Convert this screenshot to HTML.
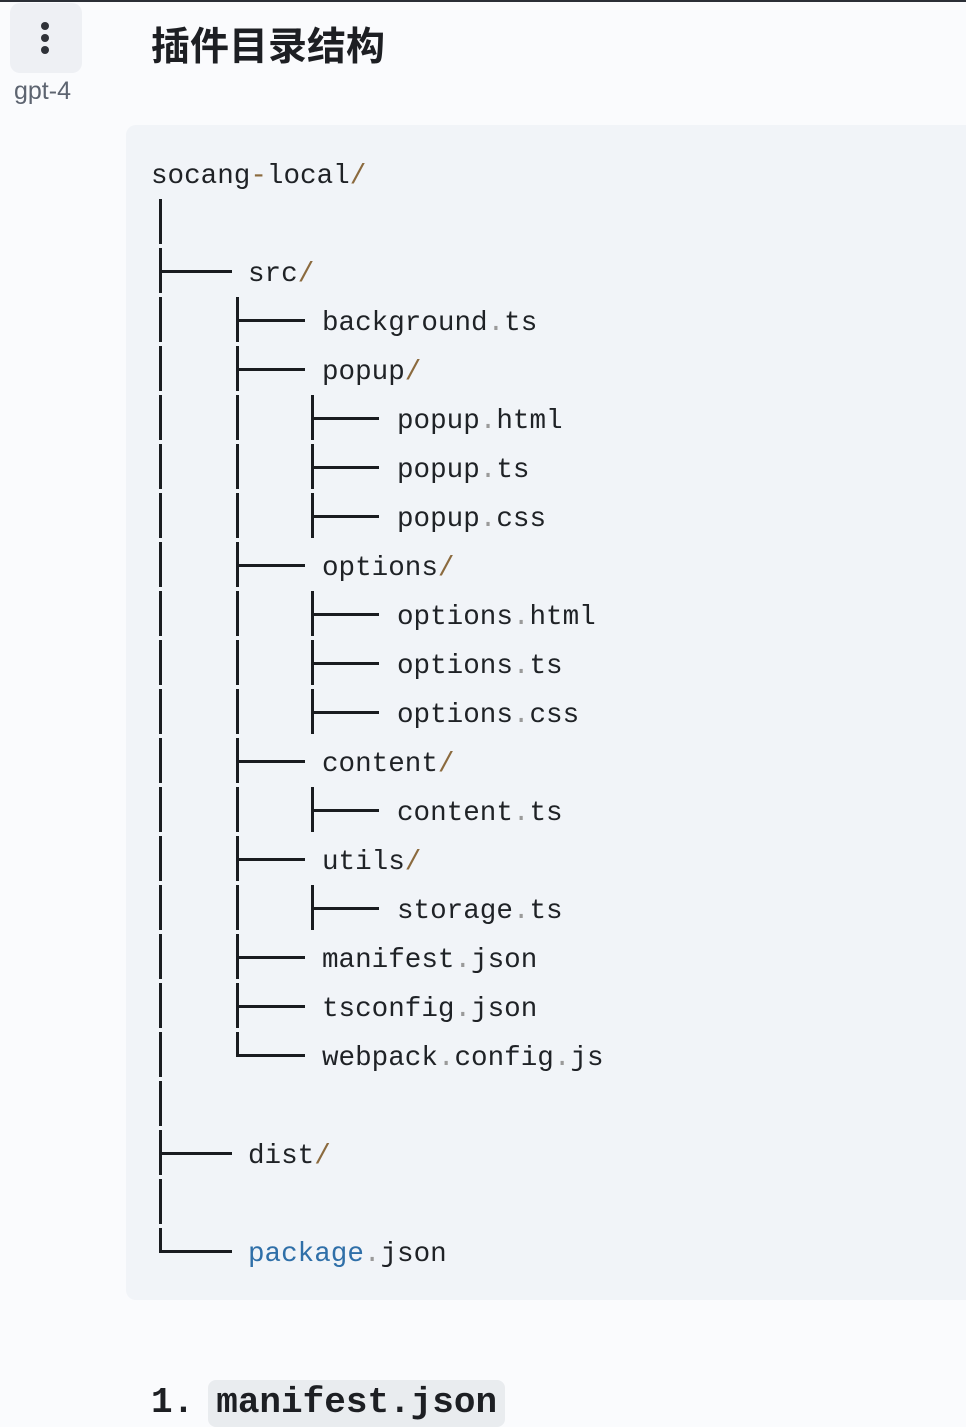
<!DOCTYPE html>
<html><head><meta charset="utf-8"><style>
html,body{margin:0;padding:0}
body{width:966px;height:1394px;overflow:hidden;background:#fafbfd;position:relative;font-family:"Liberation Sans","Noto Sans CJK SC",sans-serif}
.top{position:absolute;left:0;top:0;width:966px;height:2px;background:#2b2f36}
.ic{position:absolute;left:10px;top:3px;width:72px;height:70px;background:#eef0f4;border-radius:10px}
.dot{position:absolute;width:8px;height:8px;border-radius:50%;background:#2f3238}
.lbl{position:absolute;left:14px;top:77px;font-size:25px;color:#5d6470}
h1{position:absolute;left:151px;top:17px;margin:0;font-size:39px;font-weight:bold;color:#1d1f23;font-family:"Noto Sans CJK SC",sans-serif;line-height:54px}
.code{position:absolute;left:126px;top:125px;width:900px;height:1175px;background:#f1f4f8;border-radius:10px}
.t{position:absolute;font-family:"Liberation Mono",monospace;font-size:27.6px;line-height:49px;color:#1f2226;white-space:pre}
.s{color:#8b6a3e}.d{color:#9a9a9a}.b{color:#2f6fa8}
.v{position:absolute;width:3px;height:45px;background:#1a1c20}
.h{position:absolute;height:3px;background:#1a1c20}
.L0{left:159px}.L1{left:236px}.L2{left:311px}
.H0{left:159px;width:73px}.H1{left:236px;width:69px}.H2{left:311px;width:68px}
.bot{position:absolute;left:151px;top:1372px;font-family:"Liberation Mono",monospace;font-weight:bold;font-size:36px;line-height:42px;color:#1d1f23;white-space:pre}
.bot span{background:#e9ecef;border-radius:8px;padding:2px 8px 4px}
</style></head><body>
<div class="top"></div>
<div class="ic"><div class="dot" style="top:19px;left:31px"></div><div class="dot" style="top:31px;left:31px"></div><div class="dot" style="top:43px;left:31px"></div></div>
<div class="lbl">gpt-4</div>
<h1>插件目录结构</h1>
<div class="code"></div>

<div class="t" style="left:151px;top:152px">socang<span class="s">-</span>local<span class="s">/</span></div>
<div class="t" style="left:248px;top:250px">src<span class="s">/</span></div>
<div class="t" style="left:322px;top:299px">background<span class="d">.</span>ts</div>
<div class="t" style="left:322px;top:348px">popup<span class="s">/</span></div>
<div class="t" style="left:397px;top:397px">popup<span class="d">.</span>html</div>
<div class="t" style="left:397px;top:446px">popup<span class="d">.</span>ts</div>
<div class="t" style="left:397px;top:495px">popup<span class="d">.</span>css</div>
<div class="t" style="left:322px;top:544px">options<span class="s">/</span></div>
<div class="t" style="left:397px;top:593px">options<span class="d">.</span>html</div>
<div class="t" style="left:397px;top:642px">options<span class="d">.</span>ts</div>
<div class="t" style="left:397px;top:691px">options<span class="d">.</span>css</div>
<div class="t" style="left:322px;top:740px">content<span class="s">/</span></div>
<div class="t" style="left:397px;top:789px">content<span class="d">.</span>ts</div>
<div class="t" style="left:322px;top:838px">utils<span class="s">/</span></div>
<div class="t" style="left:397px;top:887px">storage<span class="d">.</span>ts</div>
<div class="t" style="left:322px;top:936px">manifest<span class="d">.</span>json</div>
<div class="t" style="left:322px;top:985px">tsconfig<span class="d">.</span>json</div>
<div class="t" style="left:322px;top:1034px">webpack<span class="d">.</span>config<span class="d">.</span>js</div>
<div class="t" style="left:248px;top:1132px">dist<span class="s">/</span></div>
<div class="t" style="left:248px;top:1230px"><span class="b">package</span><span class="d">.</span>json</div>

<div class="v L0" style="top:199px"></div>
<div class="v L0" style="top:248px"></div>
<div class="v L0" style="top:297px"></div>
<div class="v L0" style="top:346px"></div>
<div class="v L0" style="top:395px"></div>
<div class="v L0" style="top:444px"></div>
<div class="v L0" style="top:493px"></div>
<div class="v L0" style="top:542px"></div>
<div class="v L0" style="top:591px"></div>
<div class="v L0" style="top:640px"></div>
<div class="v L0" style="top:689px"></div>
<div class="v L0" style="top:738px"></div>
<div class="v L0" style="top:787px"></div>
<div class="v L0" style="top:836px"></div>
<div class="v L0" style="top:885px"></div>
<div class="v L0" style="top:934px"></div>
<div class="v L0" style="top:983px"></div>
<div class="v L0" style="top:1032px"></div>
<div class="v L0" style="top:1081px"></div>
<div class="v L0" style="top:1130px"></div>
<div class="v L0" style="top:1179px"></div>
<div class="v L0" style="top:1228px;height:25px"></div>
<div class="h H0" style="top:270px"></div>
<div class="h H0" style="top:1152px"></div>
<div class="h H0" style="top:1250px"></div>

<div class="v L1" style="top:297px"></div>
<div class="v L1" style="top:346px"></div>
<div class="v L1" style="top:395px"></div>
<div class="v L1" style="top:444px"></div>
<div class="v L1" style="top:493px"></div>
<div class="v L1" style="top:542px"></div>
<div class="v L1" style="top:591px"></div>
<div class="v L1" style="top:640px"></div>
<div class="v L1" style="top:689px"></div>
<div class="v L1" style="top:738px"></div>
<div class="v L1" style="top:787px"></div>
<div class="v L1" style="top:836px"></div>
<div class="v L1" style="top:885px"></div>
<div class="v L1" style="top:934px"></div>
<div class="v L1" style="top:983px"></div>
<div class="v L1" style="top:1032px;height:25px"></div>
<div class="h H1" style="top:319px"></div>
<div class="h H1" style="top:368px"></div>
<div class="h H1" style="top:564px"></div>
<div class="h H1" style="top:760px"></div>
<div class="h H1" style="top:858px"></div>
<div class="h H1" style="top:956px"></div>
<div class="h H1" style="top:1005px"></div>
<div class="h H1" style="top:1054px"></div>

<div class="v L2" style="top:395px"></div>
<div class="v L2" style="top:444px"></div>
<div class="v L2" style="top:493px"></div>
<div class="v L2" style="top:591px"></div>
<div class="v L2" style="top:640px"></div>
<div class="v L2" style="top:689px"></div>
<div class="v L2" style="top:787px"></div>
<div class="v L2" style="top:885px"></div>
<div class="h H2" style="top:417px"></div>
<div class="h H2" style="top:466px"></div>
<div class="h H2" style="top:515px"></div>
<div class="h H2" style="top:613px"></div>
<div class="h H2" style="top:662px"></div>
<div class="h H2" style="top:711px"></div>
<div class="h H2" style="top:809px"></div>
<div class="h H2" style="top:907px"></div>

<div class="bot" style="top:1382px">1.<span style="margin-left:14px">manifest.json</span></div>
</body></html>
